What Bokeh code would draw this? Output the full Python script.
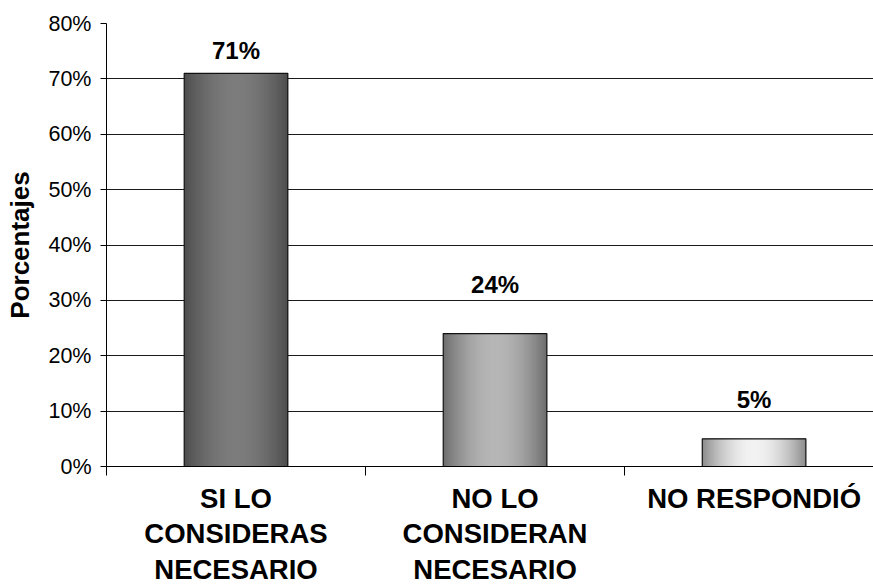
import numpy as np
from bokeh.plotting import figure
from bokeh.models import ColumnDataSource, FixedTicker, PrintfTickFormatter, Range1d
from bokeh.core.properties import value
from bokeh.embed import file_html
from bokeh.resources import INLINE

# ---- data ----
categories = ["SI LO\nCONSIDERAS\nNECESARIO", "NO LO\nCONSIDERAN\nNECESARIO", "NO RESPONDIÓ"]
percentages = [71, 24, 5]
value_labels = ["71%", "24%", "5%"]
y_ticks = [0, 10, 20, 30, 40, 50, 60, 70, 80]
y_label = "Porcentajes"

# ---- style ----
FONT = "Liberation Sans"
edge_grey = [0x4c, 0x6c, 0x8a]     # bar edge grey level
center_grey = [0x7c, 0xb6, 0xf2]   # bar center grey level
label_offsets = [-23, -49, -39]    # px above bar top for value labels
BAR_W = 0.4
N_STRIPS = 48

xs = list(range(len(categories)))

p = figure(width=873, height=587, output_backend="svg", toolbar_location=None,
           x_range=Range1d(-0.5, 2.461), y_range=Range1d(0, 80),
           min_border_left=106, min_border_right=0, min_border_top=23, min_border_bottom=0)
p.outline_line_color = None
p.background_fill_color = "white"
p.border_fill_color = "white"

# gradient bars: overlapping strips (each runs to the bar's right edge)
sl, sr, stop, scol = [], [], [], []
for i, (xc, v) in enumerate(zip(xs, percentages)):
    for k in range(N_STRIPS):
        t = (k + 0.5) / N_STRIPS
        f = np.sin(np.pi * t) ** 0.9
        g = int(round(edge_grey[i] + (center_grey[i] - edge_grey[i]) * f))
        sl.append(xc - BAR_W / 2 + k / N_STRIPS * BAR_W)
        sr.append(xc + BAR_W / 2)
        stop.append(v)
        scol.append("#%02x%02x%02x" % (g, g, g))
strip_src = ColumnDataSource(dict(left=sl, right=sr, top=stop, color=scol))
p.quad(left="left", right="right", top="top", bottom=0, fill_color="color",
       line_color=None, source=strip_src)

bar_src = ColumnDataSource(dict(x=xs, top=percentages, lab=value_labels, off=label_offsets))
p.vbar(x="x", top="top", bottom=0, width=BAR_W, fill_color=None,
       line_color="#111111", line_width=1.2, source=bar_src)

p.text(x="x", y="top", text="lab", y_offset="off", source=bar_src,
       text_align="center", text_baseline="alphabetic",
       text_font=value(FONT), text_font_style="bold", text_font_size="24px",
       text_color="black")

# y axis
p.yaxis.ticker = FixedTicker(ticks=y_ticks)
p.yaxis.formatter = PrintfTickFormatter(format="%d%%")
p.yaxis.major_tick_out = 6
p.yaxis.major_tick_in = 0
p.yaxis.minor_tick_line_color = None
p.yaxis.axis_line_color = "black"
p.yaxis.major_tick_line_color = "black"
p.yaxis.major_label_text_font = FONT
p.yaxis.major_label_text_font_size = "21.5px"
p.yaxis.major_label_text_color = "black"
p.yaxis.major_label_standoff = 9
p.yaxis.axis_label = y_label
p.yaxis.axis_label_text_font = FONT
p.yaxis.axis_label_text_font_style = "bold"
p.yaxis.axis_label_text_font_size = "26px"
p.yaxis.axis_label_text_color = "black"
p.yaxis.axis_label_standoff = 10

# x axis
p.xaxis.ticker = FixedTicker(ticks=xs, minor_ticks=[-0.5, 0.5, 1.5, 2.5])
p.xaxis.major_label_overrides = {x: c for x, c in zip(xs, categories)}
p.xaxis.major_tick_line_color = None
p.xaxis.major_tick_out = 0
p.xaxis.major_tick_in = 0
p.xaxis.minor_tick_line_color = "black"
p.xaxis.minor_tick_out = 9
p.xaxis.minor_tick_in = 0
p.xaxis.axis_line_color = "black"
p.xaxis.major_label_text_font = FONT
p.xaxis.major_label_text_font_style = "bold"
p.xaxis.major_label_text_font_size = "27.5px"
p.xaxis.major_label_text_color = "black"
p.xaxis.major_label_text_line_height = 1.146
p.xaxis.major_label_standoff = 7

# grid
p.xgrid.grid_line_color = None
p.ygrid.grid_line_color = "#1a1a1a"
p.ygrid.grid_line_width = 1

open("out.html", "w").write(file_html(p, INLINE))
